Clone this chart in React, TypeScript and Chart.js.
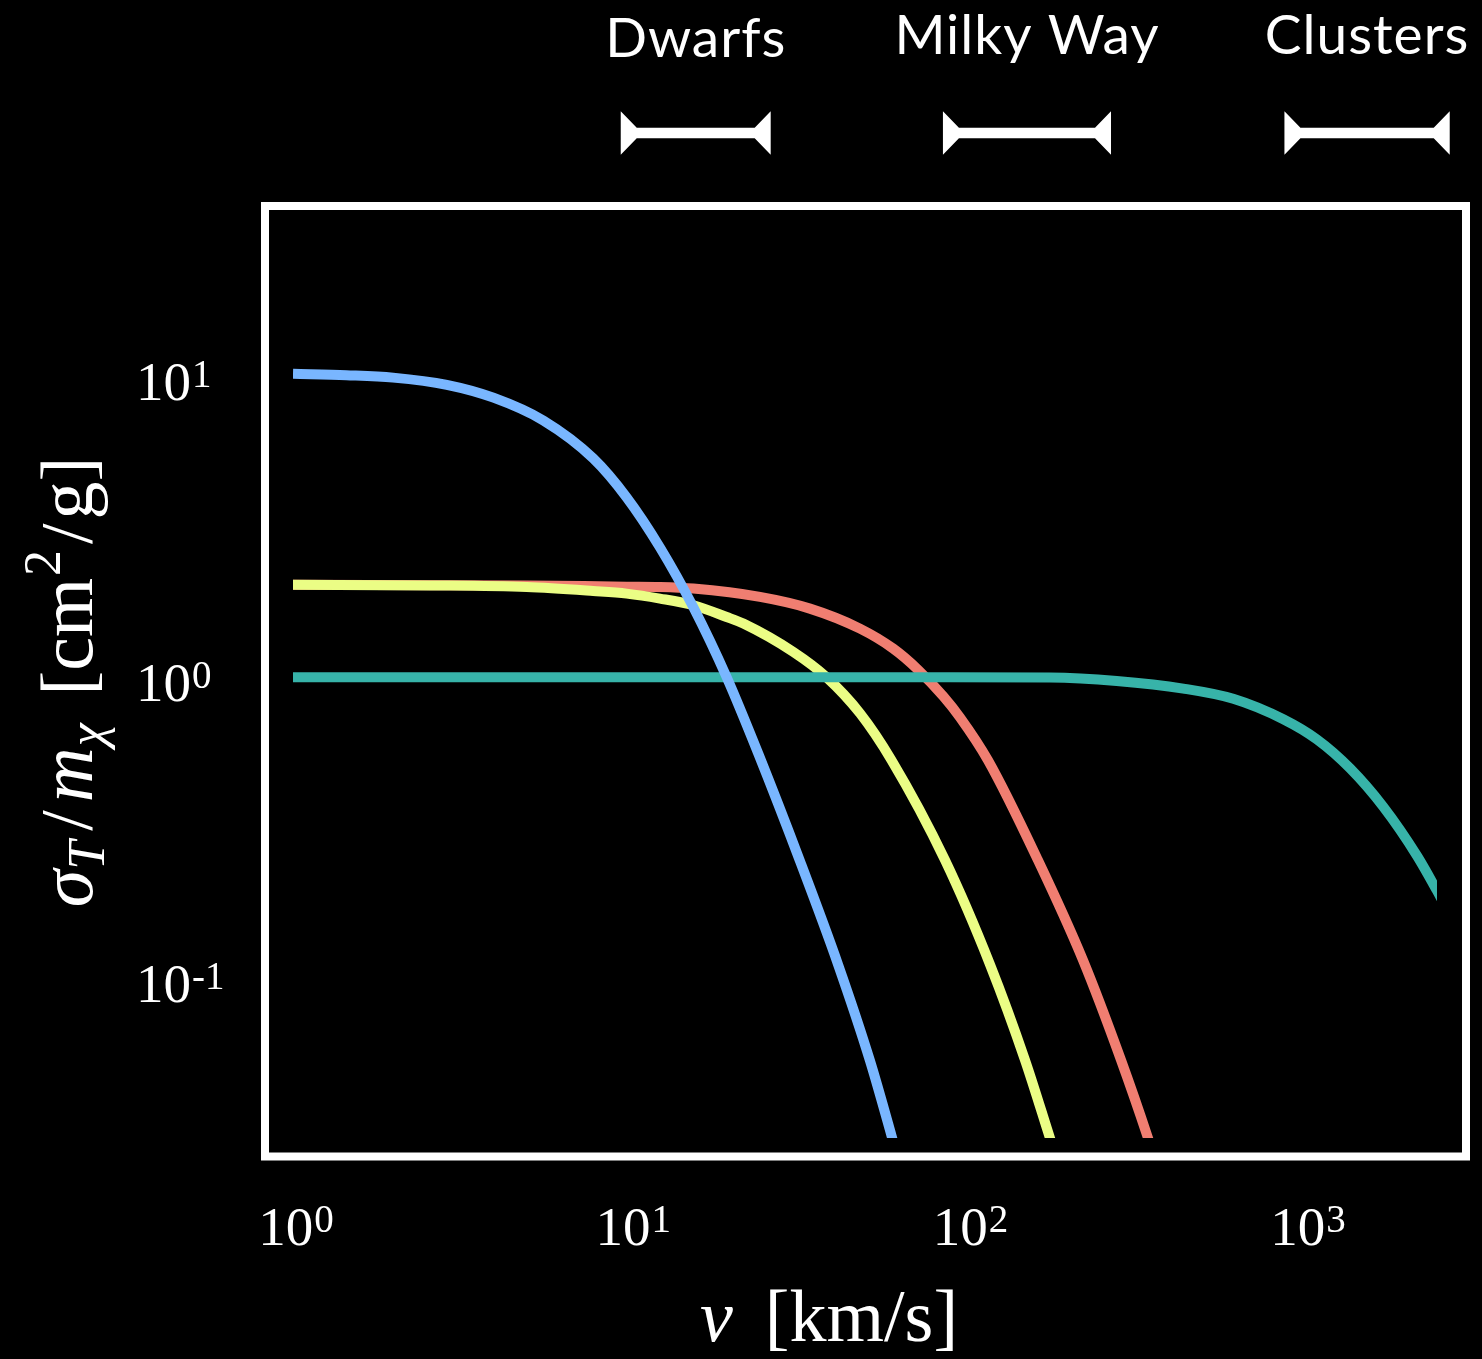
import React, { useEffect, useRef } from "react";
import { Chart, registerables } from "chart.js";

Chart.register(...registerables);

// ---- data ----
const blueV = [0.98, 1.41, 1.94, 2.8, 3.85, 5.41, 7.61, 9.56, 12.0, 15.07, 18.92, 23.48, 31.2, 40.5, 50.3, 58.3, 66.0];
const blueS = [10.2, 10.09, 9.91, 9.38, 8.5, 7.14, 5.34, 3.96, 2.7, 1.708, 1.0, 0.557, 0.245, 0.1107, 0.0532, 0.0299, 0.018];

const yellowV = [0.98, 2.5, 4.83, 7.61, 9.56, 12.0, 15.07, 18.92, 21.2, 29.8, 37.4, 47.0, 58.3, 84.0, 114.2, 145, 171.9, 190.5];
const yellowS = [2.03, 2.02, 1.995, 1.935, 1.897, 1.826, 1.735, 1.586, 1.508, 1.214, 1.0, 0.759, 0.53, 0.2466, 0.1109, 0.0534, 0.0294, 0.0205];

const redV = [0.98, 4.83, 9.56, 12.0, 15.07, 23.75, 33.4, 47.0, 59.0, 69.9, 83.0, 93.0, 112.6, 158.4, 215.4, 279.2, 335.7, 371.9];
const redS = [2.03, 2.02, 2.0, 1.995, 1.971, 1.849, 1.691, 1.451, 1.245, 1.059, 0.865, 0.736, 0.53, 0.2466, 0.1147, 0.0534, 0.0294, 0.0205];

const tealV = [0.98, 86.9, 171.9, 271.1, 427.1, 600.9, 845.5, 1062, 1333, 1673, 2101, 2409, 2638];
const tealS = [1.0, 1.0, 0.998, 0.972, 0.917, 0.848, 0.725, 0.622, 0.498, 0.371, 0.256, 0.196, 0.162];

const xTickValues = [1, 10, 100, 1000];
const xTickExps = ["0", "1", "2", "3"];
const yTickValues = [10, 1, 0.1];
const yTickExps = ["1", "0", "-1"];

const regionNames = ["Dwarfs", "Milky Way", "Clusters"];
const regionLow = [9.18, 82.8, 852];
const regionHigh = [25.55, 260.8, 2633];

const xMin = 0.98;
const xMax = 2414;
const yMin = 0.0294;
const yMax = 31.75;

const SERIF = '"Liberation Serif", "Times New Roman", serif';

type Piece = { t: string; font: string; dy?: number; gapBefore?: number };

function piecesWidth(ctx: CanvasRenderingContext2D, pieces: Piece[]) {
  let w = 0;
  for (const p of pieces) {
    ctx.font = p.font;
    w += (p.gapBefore || 0) + ctx.measureText(p.t).width;
  }
  return w;
}

function drawPieces(ctx: CanvasRenderingContext2D, pieces: Piece[], x0: number, base: number) {
  let x = x0;
  for (const p of pieces) {
    ctx.font = p.font;
    x += p.gapBefore || 0;
    ctx.fillText(p.t, x, base + (p.dy || 0));
    x += ctx.measureText(p.t).width;
  }
}

const decorPlugin = {
  id: "decor",
  beforeDraw(chart: any) {
    const { ctx, width, height } = chart;
    ctx.save();
    ctx.fillStyle = "#000";
    ctx.fillRect(0, 0, width, height);
    ctx.restore();
  },
  afterDraw(chart: any) {
    const { ctx, chartArea: ca, scales } = chart;
    const xs = scales.x;
    const ys = scales.y;
    ctx.save();
    ctx.fillStyle = "#fff";
    ctx.strokeStyle = "#fff";

    // frame
    ctx.lineWidth = 8;
    const fl = ca.left - 28, ft = ca.top - 19.5, fr = ca.right + 29, fb = ca.bottom + 18.5;
    ctx.strokeRect(fl, ft, fr - fl, fb - ft);

    ctx.textAlign = "left";
    ctx.textBaseline = "alphabetic";
    const big = `55px ${SERIF}`;
    const small = `39px ${SERIF}`;

    // x tick labels
    xTickValues.forEach((v, i) => {
      const px = xs.getPixelForValue(v);
      const pcs: Piece[] = [
        { t: "10", font: big },
        { t: xTickExps[i], font: small, dy: -13, gapBefore: 1 },
      ];
      const w = piecesWidth(ctx, pcs);
      drawPieces(ctx, pcs, px - w / 2, ca.bottom + 107);
    });

    // y tick labels
    yTickValues.forEach((v, i) => {
      const py = ys.getPixelForValue(v);
      const pcs: Piece[] = [
        { t: "10", font: big },
        { t: yTickExps[i], font: small, dy: -13, gapBefore: 1 },
      ];
      drawPieces(ctx, pcs, 136, py + 24);
    });

    // x title
    const xt: Piece[] = [
      { t: "v", font: `italic 74px ${SERIF}` },
      { t: "[km/s]", font: `74px ${SERIF}`, gapBefore: 32 },
    ];
    drawPieces(ctx, xt, 700, ca.bottom + 203);

    // y title (rotated)
    const yt: Piece[] = [
      { t: "σ", font: `italic 76px ${SERIF}` },
      { t: "T", font: `italic 52px ${SERIF}`, dy: 12 },
      { t: "/", font: `74px ${SERIF}`, gapBefore: 10 },
      { t: "m", font: `italic 76px ${SERIF}`, gapBefore: 8 },
      { t: "χ", font: `italic 52px ${SERIF}`, dy: 12, gapBefore: 1 },
      { t: "[", font: `74px ${SERIF}`, gapBefore: 28 },
      { t: "cm", font: `76px ${SERIF}` },
      { t: "2", font: `52px ${SERIF}`, dy: -32, gapBefore: 2 },
      { t: "/", font: `74px ${SERIF}`, gapBefore: 6 },
      { t: "g", font: `76px ${SERIF}`, gapBefore: 4 },
      { t: "]", font: `74px ${SERIF}` },
    ];
    const yw = piecesWidth(ctx, yt);
    ctx.save();
    ctx.translate(92, 682);
    ctx.rotate(-Math.PI / 2);
    drawPieces(ctx, yt, -yw / 2, 0);
    ctx.restore();

    // region markers above the plot
    const yc = 133;
    const half = 21.7;
    const barHalf = 5.3;
    const flare = 16;
    const labelBase = [57, 54, 54];
    regionNames.forEach((name, i) => {
      const x1 = xs.getPixelForValue(regionLow[i]);
      const x2 = xs.getPixelForValue(regionHigh[i]);
      ctx.beginPath();
      ctx.moveTo(x1, yc - half);
      ctx.lineTo(x1 + flare, yc - barHalf);
      ctx.lineTo(x2 - flare, yc - barHalf);
      ctx.lineTo(x2, yc - half);
      ctx.lineTo(x2, yc + half);
      ctx.lineTo(x2 - flare, yc + barHalf);
      ctx.lineTo(x1 + flare, yc + barHalf);
      ctx.lineTo(x1, yc + half);
      ctx.closePath();
      ctx.fill();

      ctx.font = `400 55px Lato, "Open Sans", sans-serif`;
      (ctx as any).letterSpacing = "1px";
      ctx.textAlign = "center";
      ctx.fillText(name, (x1 + x2) / 2, labelBase[i]);
      (ctx as any).letterSpacing = "0px";
      ctx.textAlign = "left";
    });

    ctx.restore();
  },
};

function pts(v: number[], s: number[]) {
  return v.map((x, i) => ({ x, y: s[i] }));
}

export default function App() {
  const ref = useRef<HTMLCanvasElement>(null);
  useEffect(() => {
    document.body.style.margin = "0";
    document.body.style.background = "#000";
    const ds = (label: string, v: number[], s: number[], color: string) => ({
      label,
      data: pts(v, s),
      borderColor: color,
      backgroundColor: color,
      borderWidth: 10,
      pointRadius: 0,
      cubicInterpolationMode: "monotone" as const,
      borderJoinStyle: "round" as const,
      clip: 0,
      fill: false,
    });
    const chart = new Chart(ref.current!, {
      type: "line",
      data: {
        datasets: [
          ds("blue", blueV, blueS, "#79b6ff"),
          ds("teal", tealV, tealS, "#37b3a9"),
          ds("yellow", yellowV, yellowS, "#ebfd85"),
          ds("red", redV, redS, "#f07e71"),
        ],
      },
      options: {
        animation: false,
        responsive: false,
        devicePixelRatio: 1,
        layout: { padding: { left: 293, top: 225.5, right: 45, bottom: 221 } },
        scales: {
          x: { type: "logarithmic", min: xMin, max: xMax, display: false },
          y: { type: "logarithmic", min: yMin, max: yMax, display: false },
        },
        plugins: { legend: { display: false }, tooltip: { enabled: false } },
      },
      plugins: [decorPlugin],
    } as any);
    return () => chart.destroy();
  }, []);
  return (
    <div style={{ position: "absolute", left: 0, top: 0, width: 1482, height: 1359, background: "#000" }}>
      <canvas ref={ref} width={1482} height={1359} style={{ display: "block", width: 1482, height: 1359 }} />
    </div>
  );
}
